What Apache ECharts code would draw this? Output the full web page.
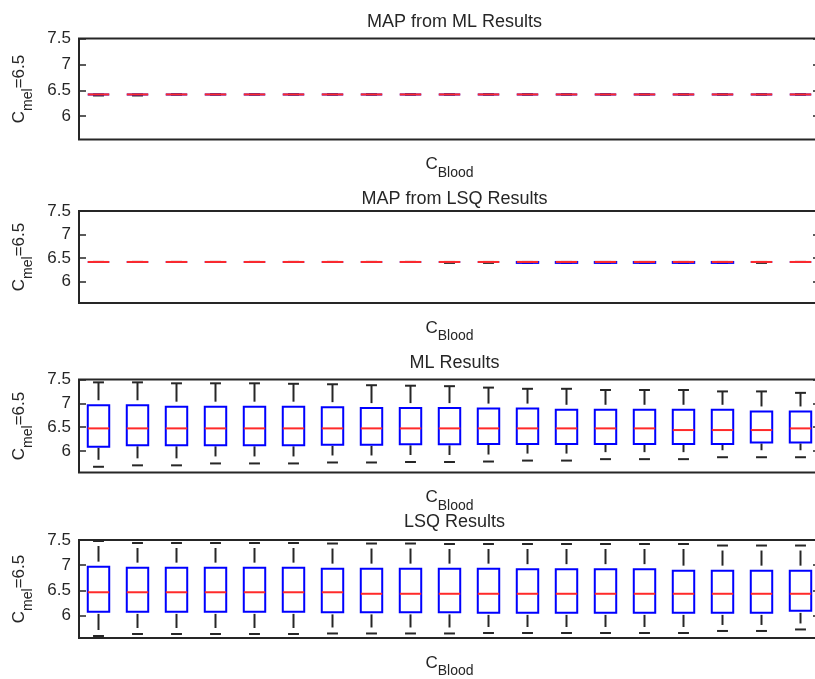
<!DOCTYPE html>
<html>
<head>
<meta charset="utf-8">
<script src="https://cdn.jsdelivr.net/npm/echarts@6/dist/echarts.min.js"></script>
<style>
  html, body { margin: 0; padding: 0; background: #ffffff; }
  #chart { width: 815px; height: 679px; }
</style>
</head>
<body>
<div id="chart"></div>
<script>
// Box positions along C_Blood (one box per position)
const positions = [1, 2, 3, 4, 5, 6, 7, 8, 9, 10, 11, 12, 13, 14, 15, 16, 17, 18, 19];
const panelTitles = ['MAP from ML Results', 'MAP from LSQ Results', 'ML Results', 'LSQ Results'];
const yTickValues = [6, 6.5, 7, 7.5];

// MAP from ML: five-number summaries (lower adjacent, Q1, median, Q3, upper adjacent)
const mapMlLow    = [6.40, 6.40, 6.42, 6.42, 6.42, 6.42, 6.42, 6.42, 6.42, 6.42, 6.42, 6.42, 6.42, 6.42, 6.42, 6.42, 6.42, 6.42, 6.42];
const mapMlQ1     = [6.42, 6.42, 6.42, 6.42, 6.42, 6.42, 6.42, 6.42, 6.42, 6.42, 6.42, 6.42, 6.42, 6.42, 6.42, 6.42, 6.42, 6.42, 6.42];
const mapMlMedian = [6.42, 6.42, 6.42, 6.42, 6.42, 6.42, 6.42, 6.42, 6.42, 6.42, 6.42, 6.42, 6.42, 6.42, 6.42, 6.42, 6.42, 6.42, 6.42];
const mapMlQ3     = [6.42, 6.42, 6.42, 6.42, 6.42, 6.42, 6.42, 6.42, 6.42, 6.42, 6.42, 6.42, 6.42, 6.42, 6.42, 6.42, 6.42, 6.42, 6.42];
const mapMlHigh   = [6.42, 6.42, 6.42, 6.42, 6.42, 6.42, 6.42, 6.42, 6.42, 6.42, 6.42, 6.42, 6.42, 6.42, 6.42, 6.42, 6.42, 6.42, 6.42];

// MAP from LSQ
const mapLsqLow    = [6.42, 6.42, 6.42, 6.42, 6.42, 6.42, 6.42, 6.42, 6.42, 6.40, 6.40, 6.40, 6.40, 6.40, 6.40, 6.40, 6.40, 6.40, 6.42];
const mapLsqQ1     = [6.42, 6.42, 6.42, 6.42, 6.42, 6.42, 6.42, 6.42, 6.42, 6.42, 6.42, 6.40, 6.40, 6.40, 6.40, 6.40, 6.40, 6.42, 6.42];
const mapLsqMedian = [6.42, 6.42, 6.42, 6.42, 6.42, 6.42, 6.42, 6.42, 6.42, 6.42, 6.42, 6.42, 6.42, 6.42, 6.42, 6.42, 6.42, 6.42, 6.42];
const mapLsqQ3     = [6.42, 6.42, 6.42, 6.42, 6.42, 6.42, 6.42, 6.42, 6.42, 6.42, 6.42, 6.42, 6.42, 6.42, 6.42, 6.42, 6.42, 6.42, 6.42];
const mapLsqHigh   = [6.42, 6.42, 6.42, 6.42, 6.42, 6.42, 6.42, 6.42, 6.42, 6.42, 6.42, 6.42, 6.42, 6.42, 6.42, 6.42, 6.42, 6.42, 6.42];

// ML
const mlLow    = [5.67, 5.70, 5.70, 5.74, 5.74, 5.74, 5.76, 5.76, 5.77, 5.77, 5.78, 5.80, 5.80, 5.83, 5.83, 5.83, 5.87, 5.87, 5.87];
const mlQ1     = [6.09, 6.12, 6.12, 6.12, 6.12, 6.12, 6.13, 6.13, 6.14, 6.14, 6.15, 6.15, 6.15, 6.15, 6.15, 6.15, 6.15, 6.18, 6.18];
const mlMedian = [6.475, 6.475, 6.475, 6.475, 6.475, 6.475, 6.475, 6.475, 6.475, 6.475, 6.475, 6.475, 6.475, 6.475, 6.475, 6.44, 6.44, 6.44, 6.475];
const mlQ3     = [6.96, 6.96, 6.93, 6.93, 6.93, 6.93, 6.92, 6.90, 6.90, 6.90, 6.89, 6.89, 6.865, 6.865, 6.865, 6.865, 6.865, 6.83, 6.83];
const mlHigh   = [7.44, 7.44, 7.42, 7.42, 7.42, 7.41, 7.40, 7.38, 7.37, 7.36, 7.33, 7.305, 7.305, 7.28, 7.28, 7.28, 7.25, 7.25, 7.22];

// LSQ
const lsqLow    = [5.59, 5.63, 5.63, 5.63, 5.63, 5.63, 5.64, 5.64, 5.64, 5.64, 5.65, 5.65, 5.65, 5.65, 5.65, 5.65, 5.69, 5.69, 5.72];
const lsqQ1     = [6.07, 6.07, 6.07, 6.07, 6.07, 6.07, 6.06, 6.06, 6.06, 6.06, 6.05, 6.05, 6.05, 6.05, 6.05, 6.05, 6.05, 6.05, 6.09];
const lsqMedian = [6.46, 6.46, 6.46, 6.46, 6.46, 6.46, 6.46, 6.43, 6.43, 6.43, 6.43, 6.43, 6.43, 6.43, 6.43, 6.43, 6.43, 6.43, 6.43];
const lsqQ3     = [6.97, 6.95, 6.95, 6.95, 6.95, 6.95, 6.93, 6.93, 6.93, 6.93, 6.93, 6.92, 6.92, 6.92, 6.92, 6.89, 6.89, 6.89, 6.89];
const lsqHigh   = [7.48, 7.44, 7.44, 7.44, 7.44, 7.44, 7.43, 7.43, 7.43, 7.42, 7.42, 7.42, 7.42, 7.42, 7.42, 7.42, 7.39, 7.39, 7.39];

const panelStats = [
  [mapMlLow, mapMlQ1, mapMlMedian, mapMlQ3, mapMlHigh],
  [mapLsqLow, mapLsqQ1, mapLsqMedian, mapLsqQ3, mapLsqHigh],
  [mlLow, mlQ1, mlMedian, mlQ3, mlHigh],
  [lsqLow, lsqQ1, lsqMedian, lsqQ3, lsqHigh]
];

// Plot-area geometry of the four stacked axes
const gridBoxes = [
  { top: 38.5, height: 101, titleTop: 8 },
  { top: 211, height: 92, titleTop: 185 },
  { top: 379.5, height: 93, titleTop: 349 },
  { top: 540, height: 98, titleTop: 508 }
];
// Whisker dash placement per panel: [gap at upper cap, gap above box, gap below box, gap at lower cap]
const whiskerGaps = [
  [0, 5, 1, 7],
  [0, 5, 1, 7],
  [0, 5, 1, 7],
  [5, 5, 2, 6]
];
const GRID_LEFT = 79;
const GRID_WIDTH = 741;
const Y_MIN = 5.55;
const Y_MAX = 7.5;
const FONT = '"Liberation Sans", Arial, Helvetica, sans-serif';
const INK = '#262626';

// Boxplot glyph: dashed-looking whiskers, black caps, blue box, red median
function makeRenderBox(gaps) {
  return function (params, api) {
    const x = api.value(0);
    const low = api.coord([x, api.value(1)]);
    const q1 = api.coord([x, api.value(2)]);
    const med = api.coord([x, api.value(3)]);
    const q3 = api.coord([x, api.value(4)]);
    const high = api.coord([x, api.value(5)]);
    const boxW = api.size([0.55, 0])[0];
    const capW = api.size([0.28, 0])[0];
    const cx = med[0];
    const children = [];
    const whiskerStyle = { stroke: INK, lineWidth: 2 };

    const upStart = high[1] + gaps[0];
    const upEnd = q3[1] - gaps[1];
    if (upEnd - upStart > 1) {
      children.push({ type: 'line', shape: { x1: cx, y1: upStart, x2: cx, y2: upEnd }, style: whiskerStyle });
    }
    const lowStart = q1[1] + gaps[2];
    const lowEnd = low[1] - gaps[3];
    if (lowEnd - lowStart > 1) {
      children.push({ type: 'line', shape: { x1: cx, y1: lowStart, x2: cx, y2: lowEnd }, style: whiskerStyle });
    }
    children.push({ type: 'line', shape: { x1: cx - capW / 2, y1: high[1], x2: cx + capW / 2, y2: high[1] }, style: { stroke: INK, lineWidth: 2 } });
    children.push({ type: 'line', shape: { x1: cx - capW / 2, y1: low[1], x2: cx + capW / 2, y2: low[1] }, style: { stroke: INK, lineWidth: 2 } });
    children.push({
      type: 'rect',
      shape: { x: cx - boxW / 2, y: q3[1], width: boxW, height: Math.max(q1[1] - q3[1], 0) },
      style: { fill: 'none', stroke: '#0000ff', lineWidth: 2 }
    });
    children.push({ type: 'line', shape: { x1: cx - boxW / 2, y1: med[1], x2: cx + boxW / 2, y2: med[1] }, style: { stroke: '#ff2a2a', lineWidth: 2 } });
    return { type: 'group', children: children };
  };
}

const grids = [], xAxes = [], yAxes = [], series = [], titles = [];

gridBoxes.forEach(function (g, i) {
  grids.push({
    left: GRID_LEFT, width: GRID_WIDTH, top: g.top, height: g.height,
    outerBoundsMode: 'none', containLabel: false,
    show: true, borderColor: INK, borderWidth: 2, backgroundColor: 'transparent'
  });
  xAxes.push({
    gridIndex: i, type: 'value', min: 0.5, max: 19.5,
    axisLine: { show: false }, axisTick: { show: false }, axisLabel: { show: false }, splitLine: { show: false },
    name: '{c|C}{s|Blood}', nameLocation: 'middle', nameGap: 15,
    nameTextStyle: {
      rich: {
        c: { fontFamily: FONT, fontSize: 17, color: INK, lineHeight: 25.5, verticalAlign: 'top', height: 20 },
        s: { fontFamily: FONT, fontSize: 14, color: INK, lineHeight: 14, verticalAlign: 'bottom', height: 14 }
      }
    }
  });
  yAxes.push({
    gridIndex: i, type: 'value', min: Y_MIN, max: Y_MAX, position: 'left',
    axisLine: { show: false }, splitLine: { show: false },
    axisTick: { show: true, inside: true, length: 7, customValues: yTickValues, lineStyle: { color: INK, width: 1.5 } },
    axisLabel: { show: true, customValues: yTickValues, margin: 8, fontFamily: FONT, fontSize: 17, color: INK,
      formatter: function (v) { return String(v); } },
    name: '{c|C}{s|mel}{e|=6.5}', nameLocation: 'middle', nameRotate: 90, nameGap: 44,
    nameTextStyle: {
      rich: {
        c: { fontFamily: FONT, fontSize: 17, color: INK, lineHeight: 25.5, verticalAlign: 'top', height: 20 },
        s: { fontFamily: FONT, fontSize: 14, color: INK, lineHeight: 14, verticalAlign: 'bottom', height: 14 },
        e: { fontFamily: FONT, fontSize: 17, color: INK, lineHeight: 25.5, verticalAlign: 'top', height: 20 }
      }
    }
  });
  yAxes.push({
    gridIndex: i, type: 'value', min: Y_MIN, max: Y_MAX, position: 'right',
    axisLine: { show: false }, splitLine: { show: false }, axisLabel: { show: false },
    axisTick: { show: true, inside: true, length: 7, customValues: yTickValues, lineStyle: { color: INK, width: 1.5 } }
  });
  titles.push({
    text: panelTitles[i], left: GRID_LEFT + GRID_WIDTH / 2, textAlign: 'center', top: g.titleTop,
    textStyle: { fontFamily: FONT, fontSize: 18, fontWeight: 'normal', color: INK }
  });
  const stats = panelStats[i];
  series.push({
    type: 'custom', xAxisIndex: i, yAxisIndex: i * 2, clip: false,
    renderItem: makeRenderBox(whiskerGaps[i]),
    encode: { x: 0, y: [1, 2, 3, 4, 5] },
    data: positions.map(function (p, k) {
      return [p, stats[0][k], stats[1][k], stats[2][k], stats[3][k], stats[4][k]];
    })
  });
});

const chart = echarts.init(document.getElementById('chart'), null, { renderer: 'canvas' });
chart.setOption({
  animation: false,
  backgroundColor: '#ffffff',
  title: titles,
  grid: grids,
  xAxis: xAxes,
  yAxis: yAxes,
  series: series
});
</script>
</body>
</html>
